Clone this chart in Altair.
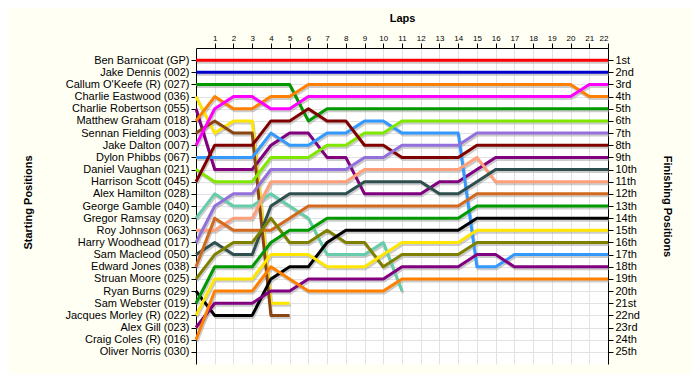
import json
import altair as alt
import pandas as pd

# ---------------- data ----------------
laps = list(range(0, 23))

starters = [
    "Ben Barnicoat (GP)", "Jake Dennis (002)", "Callum O'Keefe (R) (027)",
    "Charlie Eastwood (036)", "Charlie Robertson (055)", "Matthew Graham (018)",
    "Sennan Fielding (003)", "Jake Dalton (007)", "Dylon Phibbs (067)",
    "Daniel Vaughan (021)", "Harrison Scott (045)", "Alex Hamilton (028)",
    "George Gamble (040)", "Gregor Ramsay (020)", "Roy Johnson (063)",
    "Harry Woodhead (017)", "Sam Macleod (050)", "Edward Jones (038)",
    "Struan Moore (025)", "Ryan Burns (029)", "Sam Webster (019)",
    "Jacques Morley (R) (022)", "Alex Gill (023)", "Craig Coles (R) (016)",
    "Oliver Norris (030)",
]

finish_labels = [
    "1st", "2nd", "3rd", "4th", "5th", "6th", "7th", "8th", "9th", "10th",
    "11th", "12th", "13th", "14th", "15th", "16th", "17th", "18th", "19th",
    "20th", "21st", "22nd", "23rd", "24th", "25th",
]

colors = [
    "#ff0000", "#0000cd", "#009900", "#ffe600", "#800080", "#ff8000",
    "#8b4513", "#ff00ff", "#3399ff", "#80e800", "#800000", "#999999",
    "#999999", "#66cdaa", "#ffa07a", "#9370db", "#2f4f4f", "#d2691e",
    "#808000", "#000000", "#009900", "#ffe600", "#800080", "#ff8000",
    "#999999",
]

# position of each driver at the end of each lap (lap 0 = grid)
pos_barnicoat = [1, 1, 1, 1, 1, 1, 1, 1, 1, 1, 1, 1, 1, 1, 1, 1, 1, 1, 1, 1, 1, 1, 1]
pos_dennis    = [2, 2, 2, 2, 2, 2, 2, 2, 2, 2, 2, 2, 2, 2, 2, 2, 2, 2, 2, 2, 2, 2, 2]
pos_okeefe    = [3, 3, 3, 3, 3, 3, 6, 5, 5, 5, 5, 5, 5, 5, 5, 5, 5, 5, 5, 5, 5, 5, 5]
pos_eastwood  = [4, 7, 6, 6, 21, 21]
pos_robertson = [5, 10, 10, 10, 8, 7, 7, 9, 9, 12, 12, 12, 12, 11, 11, 10, 9, 9, 9, 9, 9, 9, 9]
pos_graham    = [6, 4, 5, 5, 4, 4, 3, 3, 3, 3, 3, 3, 3, 3, 3, 3, 3, 3, 3, 3, 3, 4, 4]
pos_fielding  = [7, 6, 7, 7, 22, 22]
pos_dalton    = [8, 5, 4, 4, 5, 5, 4, 4, 4, 4, 4, 4, 4, 4, 4, 4, 4, 4, 4, 4, 4, 3, 3]
pos_phibbs    = [9, 9, 9, 9, 7, 8, 8, 7, 7, 6, 6, 7, 7, 7, 7, 18, 18, 17, 17, 17, 17, 17, 17]
pos_vaughan   = [10, 11, 11, 11, 9, 9, 9, 8, 8, 7, 7, 6, 6, 6, 6, 6, 6, 6, 6, 6, 6, 6, 6]
pos_scott     = [11, 8, 8, 8, 6, 6, 5, 6, 6, 8, 8, 9, 9, 9, 9, 8, 8, 8, 8, 8, 8, 8, 8]
pos_hamilton  = []
pos_gamble    = []
pos_ramsay    = [14, 12, 13, 13, 12, 13, 14, 17, 17, 17, 16, 20]
pos_johnson   = [15, 15, 14, 14, 11, 11, 11, 11, 11, 10, 10, 10, 10, 10, 10, 9, 11, 11, 11, 11, 11, 11, 11]
pos_woodhead  = [16, 13, 12, 12, 10, 10, 10, 10, 10, 9, 9, 8, 8, 8, 8, 7, 7, 7, 7, 7, 7, 7, 7]
pos_macleod   = [17, 16, 17, 17, 13, 12, 12, 12, 12, 11, 11, 11, 11, 12, 12, 11, 10, 10, 10, 10, 10, 10, 10]
pos_jones     = [18, 14, 15, 15, 15, 14, 13, 13, 13, 13, 13, 13, 13, 13, 13, 12, 12, 12, 12, 12, 12, 12, 12]
pos_moore     = [19, 17, 16, 16, 14, 16, 16, 15, 16, 16, 18, 17, 17, 17, 17, 16, 16, 16, 16, 16, 16, 16, 16]
pos_burns     = [20, 22, 22, 22, 19, 18, 18, 16, 15, 15, 15, 15, 15, 15, 15, 14, 14, 14, 14, 14, 14, 14, 14]
pos_webster   = [21, 18, 18, 18, 16, 15, 15, 14, 14, 14, 14, 14, 14, 14, 14, 13, 13, 13, 13, 13, 13, 13, 13]
pos_morley    = [22, 19, 19, 19, 17, 17, 17, 18, 18, 18, 17, 16, 16, 16, 16, 15, 15, 15, 15, 15, 15, 15, 15]
pos_gill      = [23, 21, 21, 21, 20, 20, 19, 19, 19, 19, 19, 18, 18, 18, 18, 17, 17, 18, 18, 18, 18, 18, 18]
pos_coles     = [24, 20, 20, 20, 18, 19, 20, 20, 20, 20, 20, 19, 19, 19, 19, 19, 19, 19, 19, 19, 19, 19, 19]
pos_norris    = []

series = [
    pos_barnicoat, pos_dennis, pos_okeefe, pos_eastwood, pos_robertson,
    pos_graham, pos_fielding, pos_dalton, pos_phibbs, pos_vaughan, pos_scott,
    pos_hamilton, pos_gamble, pos_ramsay, pos_johnson, pos_woodhead,
    pos_macleod, pos_jones, pos_moore, pos_burns, pos_webster, pos_morley,
    pos_gill, pos_coles, pos_norris,
]

rows = []
for name, s in zip(starters, series):
    for lap, p in zip(laps, s):
        rows.append({"driver": name, "lap": lap, "pos": p})
df = pd.DataFrame(rows)

finish_df = pd.DataFrame({"pos": list(range(1, 26)), "label": finish_labels})

# ---------------- chart ----------------
FONT = "Liberation Sans"

xscale = alt.Scale(domain=[0, 22], nice=False, zero=False)
yscale = alt.Scale(domain=[0, 26], reverse=True, nice=False, zero=False)

left_expr = json.dumps(starters) + "[datum.value - 1]"
right_expr = json.dumps(finish_labels) + "[datum.value - 1]"

x_axis = alt.Axis(
    orient="top", values=laps[1:], title="Laps", titleFont=FONT,
    titleFontSize=11, titleFontWeight="bold", titleX=206, titleY=-30,
    titleBaseline="middle", titleAlign="center", labelFontSize=8,
    labelFont=FONT, labelColor="black", tickSize=5, tickColor="black",
    domainColor="black", labelPadding=1, grid=True, gridColor="#e2e2e2",
)
y_left = alt.Axis(
    orient="left", values=list(range(1, 26)), labelExpr=left_expr,
    title="Starting Positions", titleFont=FONT, titleFontSize=11,
    titleFontWeight="bold", titleAngle=-90, titleX=-168, titleY=154,
    titleBaseline="middle", titleAlign="center", labelFont=FONT,
    labelFontSize=11, labelColor="black", tickSize=5, tickColor="black",
    domainColor="black", labelPadding=2, grid=True, gridColor="#e2e2e2",
)
y_right = alt.Axis(
    orient="right", values=list(range(1, 26)), labelExpr=right_expr,
    title="Finishing Positions", titleFont=FONT, titleFontSize=11,
    titleFontWeight="bold", titleAngle=90, titleX=58, titleY=158,
    titleBaseline="middle", titleAlign="center", labelFont=FONT,
    labelFontSize=11, labelColor="black", tickSize=5, tickColor="black",
    domainColor="black", labelPadding=2, grid=False,
)

base = alt.Chart(df)

shadow = base.mark_line(
    strokeWidth=3, color="#9a9a9a", opacity=0.5, xOffset=1, yOffset=2,
    strokeJoin="round",
).encode(
    x=alt.X("lap:Q", scale=xscale, axis=x_axis),
    y=alt.Y("pos:Q", scale=yscale, axis=y_left),
    detail="driver:N",
    order="lap:Q",
)

lines = base.mark_line(strokeWidth=3, strokeJoin="round").encode(
    x=alt.X("lap:Q", scale=xscale, axis=x_axis),
    y=alt.Y("pos:Q", scale=yscale, axis=None),
    color=alt.Color("driver:N", scale=alt.Scale(domain=starters, range=colors), legend=None),
    detail="driver:N",
    order="lap:Q",
)

right = alt.Chart(finish_df).mark_point(opacity=0).encode(
    y=alt.Y("pos:Q", scale=yscale, axis=y_right),
)

chart = (
    alt.layer(shadow, lines, right)
    .resolve_axis(y="independent")
    .properties(
        width=412, height=316,
        autosize=alt.AutoSizeParams(type="none"),
        padding={"left": 188, "top": 40, "right": 84, "bottom": 10},
        background="#fffff4",
    )
    .configure_view(fill="white", stroke=None)
)

chart.save("out.html", embed_options={"renderer": "svg", "actions": False})
